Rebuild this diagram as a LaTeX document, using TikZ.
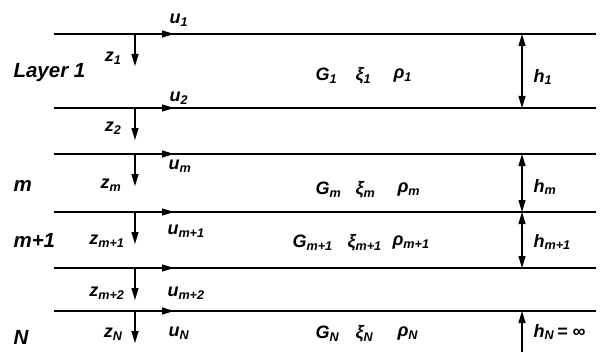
\documentclass[tikz,border=0pt]{standalone}
\usepackage{fontspec}
\setmainfont{Liberation Sans}
\usetikzlibrary{arrows.meta}

\begin{document}
\begin{tikzpicture}[x=1pt,y=-1pt,line width=1.1pt,
    arr/.style={-{Triangle[length=12pt,width=7pt]}},
    dbl/.style={{Triangle[length=12pt,width=7pt]}-{Triangle[length=12pt,width=7pt]}},
    lbl/.style={font=\fontsize{18}{20}\selectfont\bfseries\itshape,inner sep=0pt},
    big/.style={font=\fontsize{20.5}{22}\selectfont\bfseries\itshape,inner sep=0pt}]
    \useasboundingbox (0,0) rectangle (603,353);
    % interfaces
    \coordinate (w1) at (54,34);  \coordinate (e1) at (596,34);
    \coordinate (w2) at (54,108); \coordinate (e2) at (596,108);
    \coordinate (w3) at (54,154); \coordinate (e3) at (596,154);
    \coordinate (w4) at (54,212); \coordinate (e4) at (596,212);
    \coordinate (w5) at (54,268); \coordinate (e5) at (596,268);
    \coordinate (w6) at (54,311); \coordinate (e6) at (596,311);
    \draw (w1) -- (e1) (w2) -- (e2) (w3) -- (e3) (w4) -- (e4) (w5) -- (e5) (w6) -- (e6);
    %
    \coordinate (o1) at (135,34);  \coordinate (u1) at (174,34);  \coordinate (z1) at (135,66);
    \coordinate (o2) at (135,108); \coordinate (u2) at (174,108); \coordinate (z2) at (135,140);
    \coordinate (o3) at (135,154); \coordinate (u3) at (174,154); \coordinate (z3) at (135,186);
    \coordinate (o4) at (135,212); \coordinate (u4) at (174,212); \coordinate (z4) at (135,244);
    \coordinate (o5) at (135,268); \coordinate (u5) at (174,268); \coordinate (z5) at (135,300);
    \coordinate (o6) at (135,311); \coordinate (u6) at (174,311); \coordinate (z6) at (135,343);
    \draw[arr] (o1) -- (u1); \draw[arr] (o1) -- (z1);
    \draw[arr] (o2) -- (u2); \draw[arr] (o2) -- (z2);
    \draw[arr] (o3) -- (u3); \draw[arr] (o3) -- (z3);
    \draw[arr] (o4) -- (u4); \draw[arr] (o4) -- (z4);
    \draw[arr] (o5) -- (u5); \draw[arr] (o5) -- (z5);
    \draw[arr] (o6) -- (u6); \draw[arr] (o6) -- (z6);
    \node[lbl,anchor=west] at(169,20)(lu1){u\textsubscript{1}};
    \node[lbl,anchor=west] at(169,98)(lu2){u\textsubscript{2}};
    \node[lbl,anchor=west] at(168,166)(lu3){u\textsubscript{m}};
    \node[lbl,anchor=west] at(167,231)(lu4){u\textsubscript{m+1}};
    \node[lbl,anchor=west] at(167,293)(lu5){u\textsubscript{m+2}};
    \node[lbl,anchor=west] at(168,333)(lu6){u\textsubscript{N}};
    \node[lbl,anchor=east] at(122,58)(lz1){z\textsubscript{1}};
    \node[lbl,anchor=east] at(122,128)(lz2){z\textsubscript{2}};
    \node[lbl,anchor=east] at(122,185)(lz3){z\textsubscript{m}};
    \node[lbl,anchor=east] at(125,241)(lz4){z\textsubscript{m+1}};
    \node[lbl,anchor=east] at(125,293)(lz5){z\textsubscript{m+2}};
    \node[lbl,anchor=east] at(123,334)(lz6){z\textsubscript{N}};
    % layer names
    \node[big,anchor=west] at(13,73)(ly1){Layer 1};
    \node[big,anchor=west] at(13,186)(lym){m};
    \node[big,anchor=west] at(13,240)(lym1){m+1};
    \node[big,anchor=west] at(13,337)(lyN){N};
    % properties
    \node[lbl,anchor=west] at(315,76)(g1){G\textsubscript{1}};
    \node[lbl,anchor=west] at(355,76)(x1){ξ\textsubscript{1}};
    \node[lbl,anchor=west] at(393,76)(r1){ρ\textsubscript{1}};
    \node[lbl,anchor=west] at(315,190)(gm){G\textsubscript{m}};
    \node[lbl,anchor=west] at(355,190)(xm){ξ\textsubscript{m}};
    \node[lbl,anchor=west] at(397,190)(rm){ρ\textsubscript{m}};
    \node[lbl,anchor=west] at(292,243)(gm1){G\textsubscript{m+1}};
    \node[lbl,anchor=west] at(347,243)(xm1){ξ\textsubscript{m+1}};
    \node[lbl,anchor=west] at(392,243)(rm1){ρ\textsubscript{m+1}};
    \node[lbl,anchor=west] at(315,334)(gN){G\textsubscript{N}};
    \node[lbl,anchor=west] at(355,334)(xN){ξ\textsubscript{N}};
    \node[lbl,anchor=west] at(397,334)(rN){ρ\textsubscript{N}};
    % thicknesses
    \coordinate (b1) at (522,34);  \coordinate (b2) at (522,108);
    \coordinate (b3) at (522,154); \coordinate (b4) at (522,212);
    \coordinate (b5) at (522,268); \coordinate (b6) at (522,311);
    \coordinate (bot) at (522,352);
    \draw[dbl] (b1) -- (b2);
    \draw[dbl] (b3) -- (b4);
    \draw[dbl] (b4) -- (b5);
    \draw[arr] (bot) -- (b6);
    \node[lbl,anchor=west] at(533,77)(h1){h\textsubscript{1}};
    \node[lbl,anchor=west] at(533,187)(hm){h\textsubscript{m}};
    \node[lbl,anchor=west] at(533,242)(hm1){h\textsubscript{m+1}};
    \node[lbl,anchor=west] at(533,332)(hN){h\textsubscript{N}\,= ∞};
\end{tikzpicture}
\end{document}
